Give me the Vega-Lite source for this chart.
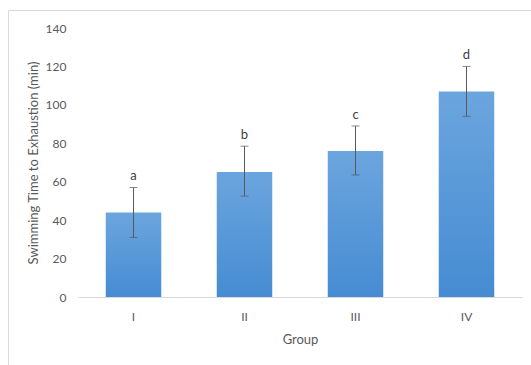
{
  "$schema": "https://vega.github.io/schema/vega-lite/v6.json",
  "width": 530,
  "height": 365,
  "autosize": "none",
  "padding": {"left": 8, "top": 10, "right": 0, "bottom": 0},
  "background": "white",
  "config": {
    "view": {"stroke": "#d9d9d9", "strokeWidth": 1},
    "font": "Lato",
    "axis": {"labelColor": "#595959", "titleColor": "#595959", "labelFont": "Lato", "titleFont": "Lato", "titleFontWeight": "normal"}
  },
  "data": {
    "values": [
      {"group": "I", "mean": 44, "lower": 31, "upper": 57, "letter": "a"},
      {"group": "II", "mean": 65, "lower": 52.5, "upper": 78.5, "letter": "b"},
      {"group": "III", "mean": 76, "lower": 63.5, "upper": 89, "letter": "c"},
      {"group": "IV", "mean": 107, "lower": 94, "upper": 120, "letter": "d"}
    ]
  },
  "encoding": {
    "x": {
      "field": "group",
      "type": "ordinal",
      "sort": null,
      "scale": {"paddingInner": 0.5, "paddingOuter": 0.25, "range": [70, 514]},
      "axis": {"title": "Group", "labelAngle": 0, "labelFontSize": 12, "titleFontSize": 13, "ticks": false, "domainColor": "#d9d9d9", "labelPadding": 14, "titlePadding": 11, "offset": -78}
    }
  },
  "layer": [
    {
      "mark": {
        "type": "bar",
        "color": {
          "gradient": "linear",
          "x1": 0, "y1": 0, "x2": 0, "y2": 1,
          "stops": [
            {"offset": 0, "color": "#6ba5de"},
            {"offset": 1, "color": "#468cd2"}
          ]
        }
      },
      "encoding": {
        "y": {
          "field": "mean",
          "type": "quantitative",
          "title": "Swimming Time to Exhaustion (min)",
          "scale": {"domain": [0, 140], "range": [287, 18]},
          "axis": {"values": [0, 20, 40, 60, 80, 100, 120, 140], "labelOverlap": false, "grid": false, "domain": false, "ticks": false, "labelFontSize": 12, "titleFontSize": 13, "labelPadding": 12, "titlePadding": 5, "offset": -70}
        }
      }
    },
    {
      "mark": {"type": "errorbar", "ticks": {"size": 8}, "color": "#595959", "thickness": 1},
      "encoding": {
        "y": {"field": "lower", "type": "quantitative", "title": "Swimming Time to Exhaustion (min)"},
        "y2": {"field": "upper"}
      }
    },
    {
      "mark": {"type": "text", "baseline": "bottom", "dy": -4, "fontSize": 13, "color": "#404040", "font": "Lato"},
      "encoding": {
        "y": {"field": "upper", "type": "quantitative", "title": "Swimming Time to Exhaustion (min)"},
        "text": {"field": "letter"}
      }
    }
  ]
}
